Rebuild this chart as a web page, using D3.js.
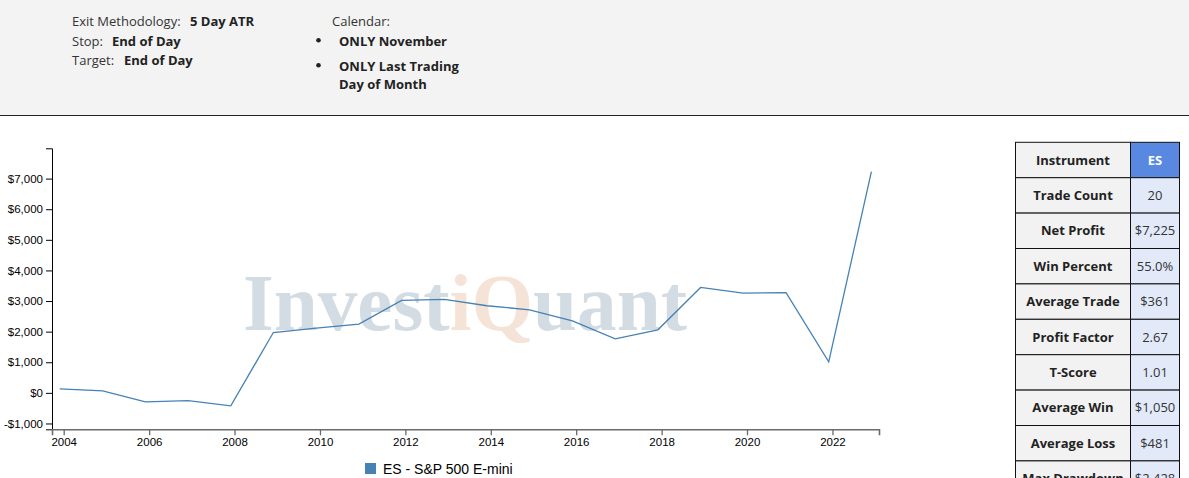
<!DOCTYPE html>
<html>
<head>
<meta charset="utf-8">
<title>ES - November, last trading day of month</title>
<style>
  body { margin: 0; background: #fff; }
  svg { display: block; }
  .hdr { font-family: "Open Sans", sans-serif; font-size: 13px; fill: #333; }
  .hdr.b { font-weight: bold; fill: #222; }
  .axis text { font-family: "Liberation Sans", Arial, sans-serif; font-size: 11.5px; fill: #000; }
  .stat text { font-family: "Open Sans", sans-serif; font-size: 13px; fill: #222; }
</style>
</head>
<body>
<svg id="page" width="1189" height="478"></svg>
<script src="https://cdn.jsdelivr.net/npm/d3@7/dist/d3.min.js"></script>
<script>
// trade dates (last trading day of November) and cumulative profit
const tradeDates = ["2003-11-28", "2004-11-30", "2005-11-30", "2006-11-30", "2007-11-30",
  "2008-11-28", "2009-11-30", "2010-11-30", "2011-11-30", "2012-11-30",
  "2013-11-29", "2014-11-28", "2015-11-30", "2016-11-30", "2017-11-30",
  "2018-11-30", "2019-11-29", "2020-11-30", "2021-11-30", "2022-11-30"];
const cumProfit = [131, 65, -294, -252, -425, 1972, 2115, 2244, 3019, 3052,
  2846, 2715, 2355, 1766, 2061, 3445, 3259, 3271, 1014, 7225];
const seriesName = "ES - S&P 500 E-mini";

// stats table
const statLabels = ["Instrument", "Trade Count", "Net Profit", "Win Percent", "Average Trade",
  "Profit Factor", "T-Score", "Average Win", "Average Loss", "Max Drawdown"];
const statValues = ["ES", "20", "$7,225", "55.0%", "$361", "2.67", "1.01", "$1,050", "$481", "$2,428"];

// header settings
const settings = [["Exit Methodology:", "5 Day ATR"], ["Stop:", "End of Day"], ["Target:", "End of Day"]];
const calendarRules = [["ONLY November"], ["ONLY Last Trading", "Day of Month"]];

const svg = d3.select("#page");

// ---- header panel ----
svg.append("rect").attr("width", 1189).attr("height", 115).attr("fill", "#f3f3f3");
svg.append("line").attr("x1", 0).attr("x2", 1189).attr("y1", 115.5).attr("y2", 115.5)
  .attr("stroke", "#222").attr("stroke-width", 1);

const valueX = [190, 112, 124];
settings.forEach((s, i) => {
  const yy = 26 + i * 19.5;
  svg.append("text").attr("class", "hdr").attr("x", 72).attr("y", yy).text(s[0]);
  svg.append("text").attr("class", "hdr b").attr("x", valueX[i]).attr("y", yy).text(s[1]);
});
svg.append("text").attr("class", "hdr").attr("x", 332).attr("y", 26).text("Calendar:");
let ly = 45.5;
calendarRules.forEach(r => {
  svg.append("circle").attr("cx", 318.5).attr("cy", ly - 5.3).attr("r", 2.3).attr("fill", "#222");
  r.forEach((line, j) => {
    svg.append("text").attr("class", "hdr b").attr("x", 339).attr("y", ly + j * 18.8).text(line);
  });
  ly += 25 + (r.length - 1) * 18.8;
});

// ---- chart ----
const parse = d3.timeParse("%Y-%m-%d");
const dates = tradeDates.map(parse);
const pts = dates.map((d, i) => ({ date: d, value: cumProfit[i] }));

const plotL = 52, plotR = 879, plotT = 148.3, plotB = 429.3;

const x = d3.scaleTime()
  .domain([d3.timeDay.offset(dates[0], -66), d3.timeDay.offset(dates[dates.length - 1], 65)])
  .range([plotL, plotR]);

const yMin = d3.min(cumProfit), yMax = d3.max(cumProfit), pad = (yMax - yMin) * 0.1;
const y = d3.scaleLinear().domain([yMin - pad, yMax + pad]).range([plotB, plotT]);

const money = d3.formatLocale({ decimal: ".", thousands: ",", grouping: [3], currency: ["$", ""], minus: "-" })
  .format("$,.0f");

// watermark
const wm = svg.append("text")
  .attr("x", 243).attr("y", 330)
  .attr("font-family", "Liberation Serif, DejaVu Serif, serif")
  .attr("font-weight", "bold").attr("font-size", 80)
  .attr("textLength", 444).attr("lengthAdjust", "spacingAndGlyphs");
wm.append("tspan").attr("fill", "#d4dce3").text("Invest");
wm.append("tspan").attr("fill", "#f6e3d7").text("iQ");
wm.append("tspan").attr("fill", "#d4dce3").text("uant");

const yAxis = svg.append("g").attr("class", "axis")
  .attr("transform", `translate(${plotL},0)`)
  .call(d3.axisLeft(y).ticks(10).tickFormat(money));
yAxis.selectAll("path, line").attr("stroke", "#000");

const xAxis = svg.append("g").attr("class", "axis")
  .attr("transform", `translate(0,${plotB})`)
  .call(d3.axisBottom(x).ticks(d3.timeYear.every(2)).tickFormat(d3.timeFormat("%Y")));
xAxis.select(".domain").attr("stroke", "#6b6b6b").attr("stroke-width", 1.6);
xAxis.selectAll(".tick line").attr("stroke", "#6b6b6b").attr("stroke-width", 1.3);

svg.append("path")
  .datum(pts)
  .attr("fill", "none")
  .attr("stroke", "steelblue")
  .attr("stroke-width", 1.3)
  .attr("d", d3.line().x(d => x(d.date)).y(d => y(d.value)));

// legend
svg.append("rect").attr("x", 365).attr("y", 463).attr("width", 11).attr("height", 11).attr("fill", "steelblue");
svg.append("text").attr("x", 383).attr("y", 474)
  .attr("font-family", "Liberation Sans, Arial, sans-serif").attr("font-size", 14)
  .attr("fill", "#000").text(seriesName);

// ---- stats table ----
const rowY = d3.scaleBand().domain(statLabels).range([142.3, 142.3 + 35.4 * statLabels.length]);
const c0 = 1015.5, c1 = 1130.5, c2 = 1179.5;
const rows = svg.append("g").attr("class", "stat").selectAll("g")
  .data(statLabels).join("g")
  .attr("transform", d => `translate(0,${rowY(d)})`);
rows.append("rect").attr("x", c0).attr("width", c1 - c0).attr("height", rowY.bandwidth())
  .attr("fill", "#f2f2f2").attr("stroke", "#111");
rows.append("rect").attr("x", c1).attr("width", c2 - c1).attr("height", rowY.bandwidth())
  .attr("fill", (d, i) => i === 0 ? "#5888e0" : "#e2eafa").attr("stroke", "#111");
rows.append("text").attr("x", (c0 + c1) / 2).attr("y", rowY.bandwidth() / 2 + 4.6)
  .attr("text-anchor", "middle").attr("font-weight", "bold").text(d => d);
rows.append("text").attr("x", (c1 + c2) / 2).attr("y", rowY.bandwidth() / 2 + 4.6)
  .attr("text-anchor", "middle")
  .attr("font-weight", (d, i) => i === 0 ? "bold" : "normal")
  .style("fill", (d, i) => i === 0 ? "#fff" : "#333")
  .text((d, i) => statValues[i]);
</script>
</body>
</html>
